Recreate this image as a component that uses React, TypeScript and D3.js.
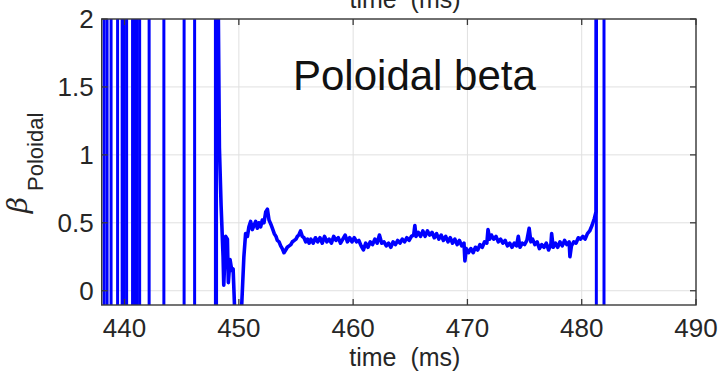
import React from "react";
import * as d3 from "d3";

const xTicks = [440, 450, 460, 470, 480, 490];
const yTicks = [0, 0.5, 1, 1.5, 2];
const yTickLabels = ["0", "0.5", "1", "1.5", "2"];

// times (ms) where beta shoots off the chart (full-height vertical strokes)
const spikeTimes = [
  438.21, 438.47, 438.82, 439.39, 439.79, 439.96, 440.18, 440.7, 440.88,
  441.1, 441.32, 442.15, 443.44, 445.21, 446.13, 447.95, 448.05, 481.28,
  481.95,
];

// continuous part of the trace
const traceTime = [
  448.18, 448.3, 448.45, 448.62, 448.68, 448.85, 449.0, 449.08, 449.23, 449.38,
  449.5, 449.66, 450.2, 450.44, 450.59, 450.75, 450.88, 451.03, 451.18, 451.32,
  451.47, 451.62, 451.76, 451.91, 452.05, 452.2, 452.35, 452.5, 452.64, 452.8,
  452.93, 453.1, 453.25, 453.37, 453.52, 453.66, 453.8, 453.95, 454.1, 454.24,
  454.4, 454.55, 454.68, 454.85, 455.0, 455.12, 455.25, 455.4, 455.55, 455.7,
  455.85, 456.0, 456.15, 456.3,
  456.5, 456.7, 456.9, 457.1, 457.3, 457.5, 457.7, 457.9, 458.1, 458.3,
  458.5, 458.7, 458.9, 459.1, 459.3, 459.5, 459.7, 459.9, 460.1, 460.3,
  460.5, 460.7, 460.9, 461.1, 461.3, 461.5, 461.7, 461.9, 462.1, 462.3,
  462.5, 462.7, 462.9, 463.1, 463.3, 463.5, 463.7, 463.9, 464.1, 464.3,
  464.5, 464.7, 464.9, 465.1, 465.3, 465.4, 465.5, 465.7, 465.9, 466.1,
  466.3, 466.5, 466.7, 466.9, 467.1, 467.3, 467.5, 467.7, 467.9, 468.1,
  468.3, 468.5, 468.7, 468.9, 469.1, 469.3, 469.5, 469.7, 469.78, 469.9,
  470.1, 470.3, 470.5, 470.7, 470.9, 471.1, 471.3, 471.5, 471.7, 471.8,
  471.95, 472.1, 472.3, 472.5, 472.7, 472.9, 473.1, 473.3, 473.5, 473.7,
  473.9, 474.1, 474.3, 474.45, 474.6, 474.8, 475.0, 475.2, 475.4, 475.55,
  475.7, 475.9, 476.1, 476.3, 476.5, 476.7, 476.9, 477.1, 477.3, 477.37,
  477.5, 477.7, 477.9, 478.1, 478.3, 478.5, 478.7, 478.9, 478.97, 479.1,
  479.3, 479.5, 479.7, 479.9, 480.1, 480.3, 480.5, 480.7, 480.9, 481.1,
  481.25, 481.28,
];
const traceBeta = [
  2.3, 1.05, 0.62, 0.25, 0.04, 0.4, 0.38, 0.06, 0.23, 0.15,
  0.16, -0.2, -0.2, 0.25, 0.42, 0.4, 0.47, 0.51, 0.45, 0.48,
  0.51, 0.46, 0.5, 0.47, 0.52, 0.5, 0.58, 0.6, 0.52, 0.49,
  0.46, 0.42, 0.4, 0.37, 0.36, 0.33, 0.31, 0.28, 0.3, 0.32,
  0.33, 0.34, 0.36, 0.37, 0.38, 0.4, 0.41, 0.44, 0.4, 0.39,
  0.36, 0.38, 0.35, 0.38,
  0.35, 0.39, 0.36, 0.39, 0.35, 0.4, 0.36, 0.38, 0.35, 0.4,
  0.37, 0.39, 0.35, 0.38, 0.41, 0.36, 0.39, 0.36, 0.39, 0.36,
  0.37, 0.33, 0.3, 0.35, 0.32, 0.36, 0.34, 0.38, 0.35, 0.41,
  0.35, 0.36, 0.33, 0.35, 0.32, 0.36, 0.34, 0.37, 0.35, 0.38,
  0.36, 0.39, 0.37, 0.4, 0.41, 0.48, 0.4, 0.43, 0.4, 0.44,
  0.4, 0.44, 0.41, 0.43, 0.39, 0.42, 0.38, 0.41, 0.37, 0.4,
  0.36, 0.39, 0.35, 0.38, 0.34, 0.37, 0.33, 0.35, 0.22, 0.31,
  0.28, 0.31, 0.28, 0.32, 0.3, 0.34, 0.32, 0.36, 0.35, 0.45,
  0.38, 0.41, 0.38, 0.4, 0.36, 0.38, 0.35, 0.37, 0.33, 0.35,
  0.32, 0.35, 0.33, 0.4, 0.32, 0.35, 0.34, 0.37, 0.46, 0.36,
  0.38, 0.34, 0.36, 0.31, 0.34, 0.32, 0.35, 0.3, 0.34, 0.42,
  0.32, 0.35, 0.32, 0.36, 0.33, 0.37, 0.34, 0.36, 0.25, 0.33,
  0.36, 0.35, 0.39, 0.38, 0.4, 0.38, 0.42, 0.44, 0.48, 0.53,
  0.58, 3.0,
];

const W = 721;
const H = 375;
const margin = { top: 19, right: 25, bottom: 70, left: 101.7 };
const xDomain = [438.0, 490];
const yDomain = [-0.105, 2];
const blue = "#0000ff";
const axisColor = "#3a3a3a";
const font = "'Liberation Sans', Arial, Helvetica, sans-serif";

const App = () => {
  const x = d3.scaleLinear().domain(xDomain).range([margin.left, W - margin.right]);
  const y = d3.scaleLinear().domain(yDomain).range([H - margin.bottom, margin.top]);
  const left = margin.left;
  const right = W - margin.right;
  const top = margin.top;
  const bottom = H - margin.bottom;

  const line = d3
    .line<[number, number]>()
    .x(d => x(d[0]))
    .y(d => y(d[1]));

  const trace: [number, number][] = traceTime.map((t, i) => [t, traceBeta[i]]);
  const tickLen = 6;

  return (
    <svg width={W} height={H} style={{ position: "absolute", left: 0, top: 0 }} fontFamily={font}>
      <defs>
        <clipPath id="plotArea">
          <rect x={left} y={top} width={right - left} height={bottom - top} />
        </clipPath>
      </defs>
      <rect width={W} height={H} fill="white" />

      {/* label of the panel above, cut off by the crop */}
      <text x={405} y={8} textAnchor="middle" fontSize={25} fill="#262626" xmlSpace="preserve">
        time  (ms)
      </text>

      {/* grid */}
      {xTicks.map(t => (
        <line key={"gx" + t} x1={x(t)} x2={x(t)} y1={top} y2={bottom} stroke="#e0e0e0" strokeWidth={1} />
      ))}
      {yTicks.map(t => (
        <line key={"gy" + t} x1={left} x2={right} y1={y(t)} y2={y(t)} stroke="#e0e0e0" strokeWidth={1} />
      ))}

      <text x={293} y={90} fontSize={42} fill="#111">
        Poloidal beta
      </text>

      {/* data */}
      <g clipPath="url(#plotArea)">
        {spikeTimes.map((t, i) => (
          <path
            key={"s" + i}
            d={line([[t, yDomain[0] - 1], [t, yDomain[1] + 1]]) || ""}
            stroke={blue}
            strokeWidth={3}
            fill="none"
          />
        ))}
        <path d={line(trace) || ""} stroke={blue} strokeWidth={3.6} fill="none" strokeLinejoin="round" />
      </g>

      {/* box and ticks */}
      <rect x={left} y={top} width={right - left} height={bottom - top} fill="none" stroke={axisColor} strokeWidth={1.4} />
      {xTicks.map(t => (
        <g key={"tx" + t}>
          <line x1={x(t)} x2={x(t)} y1={bottom} y2={bottom - tickLen} stroke={axisColor} strokeWidth={1.3} />
          <line x1={x(t)} x2={x(t)} y1={top} y2={top + tickLen} stroke={axisColor} strokeWidth={1.3} />
          <text x={x(t)} y={bottom + 32} textAnchor="middle" fontSize={26} fill="#262626">
            {t}
          </text>
        </g>
      ))}
      {yTicks.map((t, i) => (
        <g key={"ty" + t}>
          <line x1={left} x2={left + tickLen} y1={y(t)} y2={y(t)} stroke={axisColor} strokeWidth={1.3} />
          <line x1={right} x2={right - tickLen} y1={y(t)} y2={y(t)} stroke={axisColor} strokeWidth={1.3} />
          <text x={left - 8} y={y(t)} dy="0.35em" textAnchor="end" fontSize={26} fill="#262626">
            {yTickLabels[i]}
          </text>
        </g>
      ))}

      {/* axis labels */}
      <text x={(left + right) / 2 + 6} y={H - 9} textAnchor="middle" fontSize={25} fill="#262626" xmlSpace="preserve">
        time  (ms)
      </text>
      <text transform="translate(27, 213) rotate(-90)" fontSize={28} fill="#262626" fontStyle="italic" fontFamily="'DejaVu Serif', serif">
        β
      </text>
      <text transform="translate(43, 191) rotate(-90)" fontSize={22} fill="#262626">
        Poloidal
      </text>
    </svg>
  );
};

export default App;
